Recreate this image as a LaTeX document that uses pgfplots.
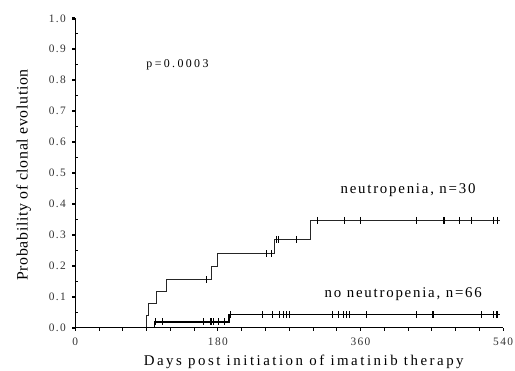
\documentclass[border=0pt]{standalone}
\usepackage{fontspec}
\setmainfont{Liberation Serif}
\usepackage{pgfplots}
\pgfplotsset{compat=1.18}
\newfontfamily\tickfont[LetterSpace=12]{Liberation Serif}
\newfontfamily\pfont[LetterSpace=20]{Liberation Serif}
\newfontfamily\curvefont[LetterSpace=12]{Liberation Serif}
\newfontfamily\xlabfont[LetterSpace=17]{Liberation Serif}
\newfontfamily\ylabfont[LetterSpace=4]{Liberation Serif}
\begin{document}
\begin{tikzpicture}
\begin{axis}[
  at={(0pt,0pt)}, anchor=south west,
  scale only axis,
  width=432pt, height=312.5pt,
  xmin=0, xmax=540, ymin=0, ymax=1,
  axis lines*=left,
  axis line style={line width=1.2pt},
  xtick={0,180,360,540},
  ytick={0,0.1,...,1.0},
  minor x tick num=5,
  minor y tick num=1,
  tick align=outside,
  major tick length=3pt,
  minor tick length=3pt,
  tick style={black, line width=0.8pt},
  major y tick style={line width=2.4pt},
  minor y tick style={xshift=3pt},
  /pgf/number format/assume math mode=true,
  yticklabel style={/pgf/number format/fixed, /pgf/number format/fixed zerofill, /pgf/number format/precision=1, font=\tickfont\fontsize{11.5}{13}\selectfont, text=black!80, xshift=-3pt},
  xticklabel style={font=\tickfont\fontsize{11.5}{13}\selectfont, text=black!80, yshift=-4pt},
  xlabel={Days post initiation of imatinib therapy},
  ylabel={Probability of clonal evolution},
  xlabel style={font=\xlabfont\fontsize{15}{17}\selectfont, at={(axis description cs:0.534,0)}, anchor=base, yshift=-38pt},
  ylabel style={font=\ylabfont\fontsize{16}{18}\selectfont, at={(axis description cs:0,0.494)}, anchor=base, yshift=48pt},
  clip=false,
]
\addplot[const plot, black!85, line width=1pt] coordinates {
(0,0) (90,0.041) (93,0.077) (103,0.118) (115,0.156) (172,0.198) (180,0.24) (251,0.286) (297,0.347) (536,0.347)};
\addplot[only marks, mark=|, mark size=3.5pt, mark options={line width=0.8pt}, black] coordinates {
(166,0.156) (241,0.24) (247,0.24) (254,0.286) (256,0.286) (279,0.286)
(306,0.347) (340,0.347) (360,0.347) (430,0.347) (465,0.347) (466,0.347) (485,0.347) (500,0.347) (528,0.347) (533,0.347)};
\addplot[const plot, black, line width=1.3pt] coordinates {
(0,0) (100,0.019) (194,0.043) (536,0.043)};
\addplot[only marks, mark=|, mark size=3.5pt, mark options={line width=0.8pt}, black] coordinates {
(101,0.019) (110,0.019) (162,0.019) (170,0.019) (172,0.019) (174,0.019) (181,0.019) (188,0.019)
(196,0.043) (236,0.043) (249,0.043) (258,0.043) (263,0.043) (266,0.043) (270,0.043) (324,0.043) (332,0.043) (338,0.043) (342,0.043) (346,0.043) (367,0.043) (430,0.043) (451,0.043) (452,0.043) (513,0.043) (528,0.043) (531,0.043) (533,0.043)};
\node[font=\pfont\fontsize{12}{14}\selectfont] at (axis cs:129,0.851) {p=0.0003};
\node[font=\curvefont\fontsize{15}{17}\selectfont, anchor=base] at (axis cs:420,0.435) {neutropenia, n=30};
\node[font=\curvefont\fontsize{15}{17}\selectfont, anchor=base] at (axis cs:414,0.097) {no neutropenia, n=66};
\end{axis}
\pgfresetboundingbox
\useasboundingbox (-76pt,-43pt) rectangle (444pt,331pt);
\end{tikzpicture}
\end{document}
